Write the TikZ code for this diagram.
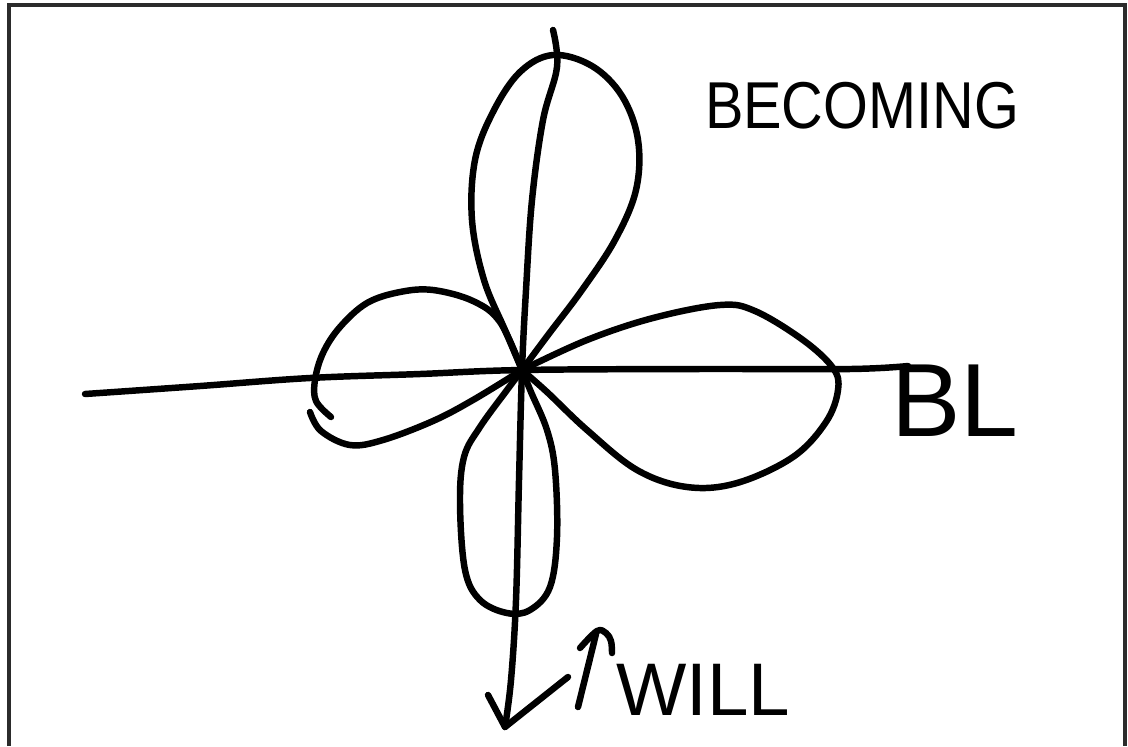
\documentclass[tikz,border=0pt]{standalone}
\usepackage{fontspec}
\setmainfont{Liberation Sans}
\usepackage{tikz}
\usetikzlibrary{calc}
\definecolor{framegray}{HTML}{2B2B2B}

\begin{document}
\begin{tikzpicture}[x=0.025cm,y=-0.025cm,
    pen/.style={line width=4.6pt,line cap=round,line join=round},
    handtext/.style={inner sep=0pt,text=black},
    curve/.style={pen,smooth,tension=0.6}]
    \useasboundingbox (0,0) rectangle (1128,746);
    \fill[white] (0,0) rectangle (1128,746);

    % Frame
    \coordinate (FL) at (9,746);
    \coordinate (FTL) at (9,5);
    \coordinate (FTR) at (1125,5);
    \coordinate (FR) at (1125,746);
    \draw[framegray,line width=2.2pt] (FL) -- (FTL) -- (FTR) -- (FR);

    % Nodes
    \coordinate (O) at (522,370);
    \coordinate (tip) at (505,727);
    \node[handtext,font=\fontsize{41}{41}\selectfont,yscale=1.15] (becoming) at (862,106) {BECOMING};
    \node[handtext,font=\fontsize{74}{74}\selectfont] (bl) at (955,401) {BL};
    \node[handtext,font=\fontsize{53}{53}\selectfont] (will) at (703,690) {WILL};

    % Axes
    \draw[curve] plot coordinates {(85,394) (200,386) (310,378) (420,374) (O) (700,369) (850,369) (908,366)};
    \draw[curve] plot coordinates {(553,30) (557,67) (543,120) (532,200) (526,290) (O) (519,480) (516,600) (511,680) (tip)};
    \draw[pen] (488,695) -- (tip) -- (568,677);

    % Petals
    \draw[curve] plot coordinates {(O) (505,330) (484,280) (472,220) (475,160) (493,112) (520,72) (553,55) (592,66) (622,96) (638,140) (636,190) (615,240) (582,290) (548,335) (O)};
    \draw[curve] plot coordinates {(O) (587,340) (653,318) (720,305) (755,311) (803,340) (833,368) (838,390) (826,422) (793,457) (737,483) (687,487) (637,470) (587,430) (547,392) (O)};
    \draw[curve] plot coordinates {(O) (500,322) (473,301) (433,290) (400,292) (367,303) (340,327) (323,353) (315,380) (316,401) (331,417)};
    \draw[curve] plot coordinates {(310,412) (321,431) (350,445) (383,440) (433,421) (473,400) (O)};
    \draw[curve] plot coordinates {(O) (507,390) (480,427) (464,457) (460,503) (465,570) (480,600) (507,613) (530,610) (550,587) (557,537) (555,470) (547,430) (531,392) (O)};

    % Arrow next to WILL
    \draw[pen] (578,707) -- (596,634);
    \draw[curve] plot coordinates {(580,648) (597,631) (606,633) (611,641) (612,653)};
\end{tikzpicture}
\end{document}
